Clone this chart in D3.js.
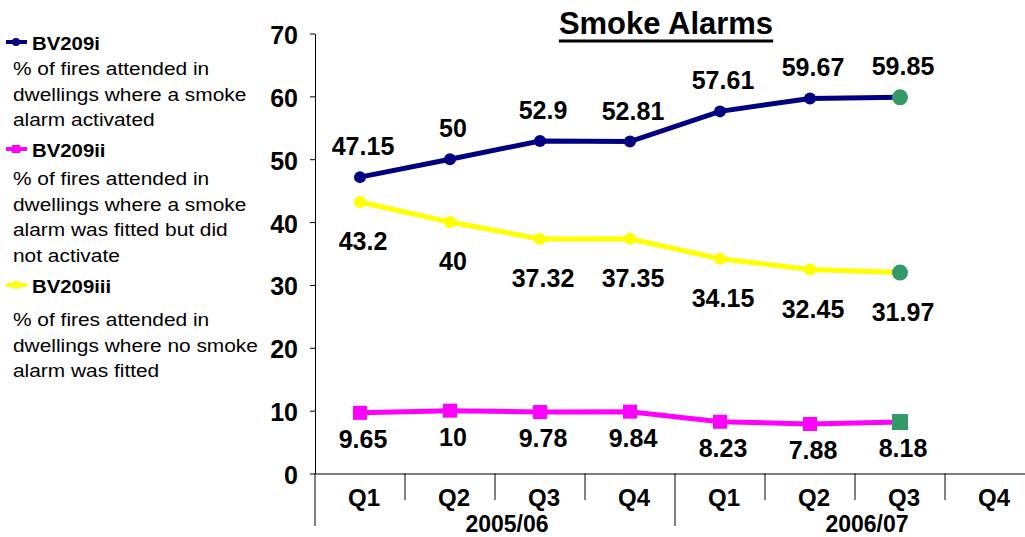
<!DOCTYPE html>
<html>
<head>
<meta charset="utf-8">
<script src="https://cdn.jsdelivr.net/npm/d3@7"></script>
<style>
  body { margin: 0; background: #fff; }
  svg { display: block; font-family: "Liberation Sans", Arial, sans-serif; }
</style>
</head>
<body>
<svg width="1025" height="537"></svg>
<script>
var years = ["2005/06", "2006/07"];
var quarters = ["Q1", "Q2", "Q3", "Q4"];
var yTicks = [0, 10, 20, 30, 40, 50, 60, 70];

// Q1 2005/06 .. Q3 2006/07 (Q4 2006/07 not reported yet)
var activated = [47.15, 50, 52.9, 52.81, 57.61, 59.67, 59.85];
var notActivated = [9.65, 10, 9.78, 9.84, 8.23, 7.88, 8.18];
var noAlarm = [43.2, 40, 37.32, 37.35, 34.15, 32.45, 31.97];

var seriesNames = ["BV209i", "BV209ii", "BV209iii"];
var seriesText = [
    ["% of fires attended in", "dwellings where a smoke", "alarm activated"],
    ["% of fires attended in", "dwellings where a smoke", "alarm was fitted but did", "not activate"],
    ["% of fires attended in", "dwellings where no smoke", "alarm was fitted"]
];

var svg = d3.select("svg");
var width = +svg.attr("width"),
    height = +svg.attr("height");

var keys = [];
years.forEach(function(y) {
    quarters.forEach(function(q) { keys.push(y + " " + q); });
});

var x = d3.scaleBand().domain(keys).range([315, 1035]).padding(0);
var y = d3.scaleLinear().domain([0, 70]).range([473.5, 33.5]);
var half = x.bandwidth() / 2;

var series = [
    { name: seriesNames[0], values: activated, color: "#000080", marker: "circle", labelDy: -22 },
    { name: seriesNames[1], values: notActivated, color: "#ff00ff", marker: "square", labelDy: 35 },
    { name: seriesNames[2], values: noAlarm, color: "#ffff00", marker: "circle", labelDy: 48 }
];

// title, underline drawn by hand so it sits lower and thicker
var title = svg.append("text")
    .attr("x", 666).attr("y", 34)
    .attr("text-anchor", "middle")
    .style("font-size", "31px").style("font-weight", "bold")
    .text("Smoke Alarms");
var tb = title.node().getBBox();
svg.append("line")
    .attr("x1", tb.x).attr("x2", tb.x + tb.width)
    .attr("y1", 41).attr("y2", 41)
    .attr("stroke", "#000").attr("stroke-width", 3);

// y axis
var yAxis = svg.append("g")
    .attr("transform", "translate(315,0)")
    .call(d3.axisLeft(y).tickValues(yTicks).tickSize(5).tickSizeOuter(0).tickPadding(12));
yAxis.selectAll("text").style("font-size", "25px").style("font-weight", "bold").attr("fill", "#000")
    .attr("dy", "0.4em");
yAxis.selectAll("line, path").attr("stroke", "#000");

// x axis
var xAxis = svg.append("g")
    .attr("transform", "translate(0,473.5)")
    .call(d3.axisBottom(x).tickSize(0).tickSizeOuter(0).tickPadding(15)
        .tickFormat(function(d) { return d.split(" ")[1]; }));
xAxis.selectAll("text").style("font-size", "24px").style("font-weight", "bold").attr("fill", "#000")
    .attr("dx", 4);
xAxis.select("path").attr("stroke", "#000");

// category separators
var seps = keys.map(function(k, i) { return { pos: x(k), year: i % 4 === 0 }; });
svg.append("g").selectAll("line")
    .data(seps).enter()
    .append("line")
    .attr("x1", function(d) { return d.pos; })
    .attr("x2", function(d) { return d.pos; })
    .attr("y1", 473.5)
    .attr("y2", function(d) { return d.year ? 526 : 500; })
    .attr("stroke", "#000").attr("stroke-width", 1);

svg.append("g").selectAll("text")
    .data(years).enter()
    .append("text")
    .attr("x", function(d) { return x(d + " Q3") + 12; })
    .attr("y", 532)
    .attr("text-anchor", "middle")
    .style("font-size", "23px").style("font-weight", "bold")
    .text(function(d) { return d; });

// lines
var line = d3.line()
    .x(function(d, i) { return x(keys[i]) + half; })
    .y(function(d) { return y(d); });

var plot = svg.append("g");
series.forEach(function(s) {
    var g = plot.append("g");
    g.append("path")
        .attr("d", line(s.values))
        .attr("fill", "none")
        .attr("stroke", s.color)
        .attr("stroke-width", 5);

    var last = s.values.length - 1;
    s.values.forEach(function(v, i) {
        var cx = x(keys[i]) + half, cy = y(v);
        var fill = i === last ? "#339966" : s.color;
        if (s.marker === "square") {
            var r = i === last ? 8 : 7;
            g.append("rect")
                .attr("x", cx - r).attr("y", cy - r)
                .attr("width", r * 2).attr("height", r * 2)
                .attr("fill", fill);
        } else {
            g.append("circle")
                .attr("cx", cx).attr("cy", cy)
                .attr("r", i === last ? 8 : 6)
                .attr("fill", fill);
        }
    });

    g.selectAll("text.lbl")
        .data(s.values).enter()
        .append("text")
        .attr("class", "lbl")
        .attr("x", function(d, i) { return x(keys[i]) + half + 3; })
        .attr("y", function(d) { return y(d) + s.labelDy; })
        .attr("text-anchor", "middle")
        .style("font-size", "25px").style("font-weight", "bold")
        .text(function(d) { return d; });
});

// legend
var legendY = [42, 149, 285];
var legendTextY = [75, 185, 326];
var legend = svg.append("g");
series.forEach(function(s, i) {
    var ly = legendY[i];
    legend.append("line")
        .attr("x1", 6).attr("x2", 27).attr("y1", ly).attr("y2", ly)
        .attr("stroke", s.color).attr("stroke-width", 4);
    if (s.marker === "square") {
        legend.append("rect").attr("x", 12).attr("y", ly - 4).attr("width", 8).attr("height", 8).attr("fill", s.color);
    } else {
        legend.append("circle").attr("cx", 16).attr("cy", ly).attr("r", 4).attr("fill", s.color);
    }
    legend.append("text")
        .attr("transform", "translate(32," + (ly + 8) + ") scale(1.1,1)")
        .style("font-size", "18.5px").style("font-weight", "bold")
        .text(s.name);
    seriesText[i].forEach(function(t, j) {
        legend.append("text")
            .attr("transform", "translate(13," + (legendTextY[i] + j * 25.5) + ") scale(1.13,1)")
            .style("font-size", "18.5px")
            .text(t);
    });
});
</script>
</body>
</html>
